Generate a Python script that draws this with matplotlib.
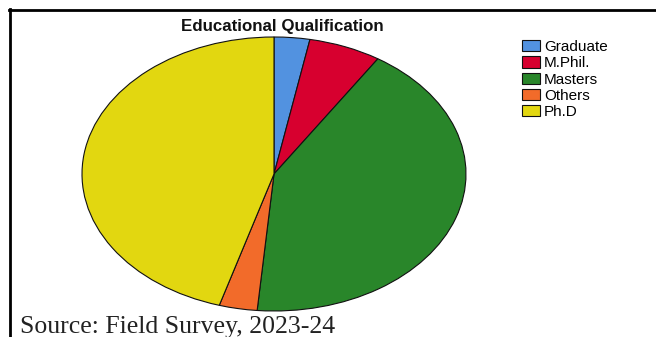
import matplotlib.pyplot as plt
from matplotlib.lines import Line2D

# qualification groups and their share of respondents (%)
labels = ['Graduate', 'M.Phil.', 'Masters', 'Others', 'Ph.D']
shares = [3.0, 6.1, 42.3, 3.2, 45.4]
colors = ['#5292E0', '#D7002F', '#29862A', '#F26B2A', '#E2D710']

W, H = 656, 337
fig = plt.figure(figsize=(W / 100, H / 100), dpi=100)
fig.patch.set_facecolor('white')

# pie axes stretched so the pie comes out as an ellipse
ax = fig.add_axes([82 / W, (H - 311) / H, 384 / W, 274 / H])
wedges, _ = ax.pie(shares, colors=colors, startangle=90, counterclock=False,
                   radius=1, wedgeprops=dict(edgecolor='#111111', linewidth=0.8))
ax.set_aspect('auto')
ax.set_xlim(-1, 1)
ax.set_ylim(-1, 1)
ax.axis('off')

fig.text(282 / W, 1 - 26 / H, 'Educational Qualification', ha='center', va='center',
         fontsize=12.2, fontweight='bold', family='Liberation Sans', color='#111111')

fig.legend(wedges, labels, loc='upper left', bbox_to_anchor=(522 / W, 1 - 40 / H),
           frameon=False, borderaxespad=0, borderpad=0,
           prop={'family': 'Liberation Sans', 'size': 11},
           handlelength=1.15, handleheight=0.75, handletextpad=0.3, labelspacing=0.15)

fig.text(20 / W, 1 - 327 / H, 'Source: Field Survey, 2023-24', ha='left', va='center',
         fontsize=18.5, family='Liberation Serif', color='#222222')

# frame lines along the top and left edge
fig.add_artist(Line2D([9 / W, 1], [1 - 10 / H, 1 - 10 / H], color='black', linewidth=2,
                      transform=fig.transFigure))
fig.add_artist(Line2D([10 / W, 10 / W], [1 - 9 / H, 0], color='black', linewidth=2,
                      transform=fig.transFigure))

fig.savefig('out.png', dpi=100)
